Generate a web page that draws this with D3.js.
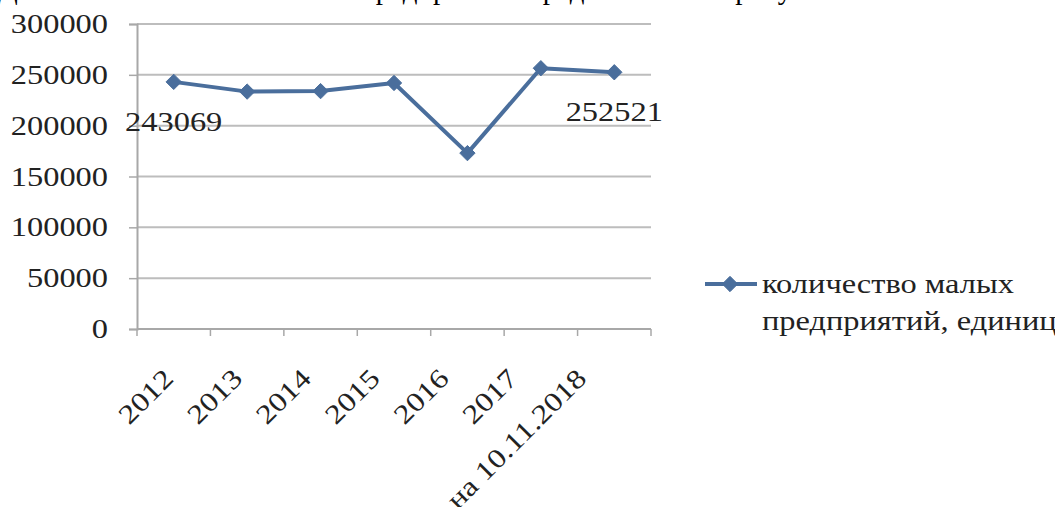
<!DOCTYPE html>
<html>
<head>
<meta charset="utf-8">
<script src="https://cdn.jsdelivr.net/npm/d3@7/dist/d3.min.js"></script>
<style>
  html, body { margin: 0; padding: 0; background: #fff; }
  svg { display: block; }
  text { font-family: "Liberation Serif", "Times New Roman", serif; fill: #222; }
</style>
</head>
<body>
<svg id="chart" width="1055" height="507"></svg>
<script>
const categories = ["2012", "2013", "2014", "2015", "2016", "2017", "на 10.11.2018"];
const values = [243069, 233500, 234000, 242000, 173000, 256500, 252521];
const yTicks = [0, 50000, 100000, 150000, 200000, 250000, 300000];
const labeledIdx = [0, 6];
const seriesName = ["количество малых", "предприятий, единиц"];
const headerText = "Динамика количества малых предприятий представлена на рисунке";

const svg = d3.select("#chart");
const W = 1055, H = 507;
const plot = { left: 137, right: 651, top: 24, bottom: 329 };
const lineColor = "#4a6e9c";
const gridColor = "#bdbdbd";
const fontSize = 27;

// cropped document line at the very top
svg.append("text")
  .attr("class", "header")
  .attr("x", -2).attr("y", -1)
  .style("font-size", "29px")
  .style("fill", "#000")
  .text(headerText);

const x = d3.scaleBand().domain(categories).range([plot.left, plot.right]).paddingInner(0).paddingOuter(0);
const y = d3.scaleLinear().domain([0, 300000]).range([plot.bottom, plot.top]);
const xLab = d3.scalePoint().domain(categories).range([175, 588]);

// gridlines
svg.append("g")
  .selectAll("line").data(yTicks.filter(d => d > 0)).join("line")
  .attr("x1", plot.left).attr("x2", plot.right)
  .attr("y1", d => y(d)).attr("y2", d => y(d))
  .attr("stroke", gridColor).attr("stroke-width", 2);

// y axis
const yAxis = svg.append("g")
  .attr("transform", `translate(${plot.left},0)`)
  .call(d3.axisLeft(y).tickValues(yTicks).tickFormat(d3.format("d")).tickSize(8).tickPadding(21));
yAxis.select(".domain").attr("stroke", "#a8a8a8").attr("stroke-width", 2);
yAxis.selectAll(".tick line").attr("stroke", "#a8a8a8").attr("stroke-width", 1.5);
yAxis.selectAll(".tick text")
  .style("font-size", fontSize + "px")
  .style("font-family", "'Liberation Serif', serif")
  .attr("fill", "#2a2a2a");

// x axis baseline with boundary ticks
const xg = svg.append("g");
xg.append("line")
  .attr("x1", plot.left).attr("x2", plot.right)
  .attr("y1", y(0)).attr("y2", y(0))
  .attr("stroke", "#a8a8a8").attr("stroke-width", 2);
const bounds = categories.map(c => x(c)).concat([x(categories[categories.length - 1]) + x.bandwidth()]);
xg.selectAll("line.tk").data(bounds).join("line")
  .attr("class", "tk")
  .attr("x1", d => d).attr("x2", d => d)
  .attr("y1", y(0)).attr("y2", y(0) + 7)
  .attr("stroke", "#a8a8a8").attr("stroke-width", 1.5);

// x labels rotated
xg.selectAll("text.xl").data(categories).join("text")
  .attr("class", "xl")
  .attr("transform", d => `translate(${xLab(d)},${y(0) + 51}) rotate(-45)`)
  .attr("text-anchor", "end")
  .style("font-size", fontSize + "px")
  .text(d => d);

// series line
const cx = d => x(d) + x.bandwidth() / 2;
const pts = categories.map((c, i) => [cx(c), y(values[i])]);
svg.append("path")
  .datum(pts)
  .attr("d", d3.line())
  .attr("fill", "none")
  .attr("stroke", lineColor)
  .attr("stroke-width", 4)
  .attr("stroke-linejoin", "round");

const diamond = d3.symbol().type(d3.symbolDiamond2).size(150);
svg.append("g").selectAll("path").data(pts).join("path")
  .attr("transform", d => `translate(${d[0]},${d[1]})`)
  .attr("d", diamond)
  .attr("fill", lineColor)
  .attr("stroke", lineColor)
  .attr("stroke-width", 1);

// data labels
svg.append("g").selectAll("text").data(labeledIdx).join("text")
  .attr("class", "dl")
  .attr("x", i => cx(categories[i]))
  .attr("y", i => y(values[i]) + 49)
  .attr("text-anchor", "middle")
  .style("font-size", fontSize + "px")
  .text(i => String(values[i]));

// legend
const lg = svg.append("g").attr("transform", "translate(705,284)");
lg.append("line").attr("x1", 0).attr("x2", 52).attr("y1", 0).attr("y2", 0)
  .attr("stroke", lineColor).attr("stroke-width", 4);
lg.append("path").attr("transform", "translate(25,0)").attr("d", diamond)
  .attr("fill", lineColor).attr("stroke", lineColor);
lg.selectAll("text").data(seriesName).join("text")
  .attr("x", 57)
  .attr("y", (d, i) => 9 + i * 37)
  .style("font-size", fontSize + "px")
  .text(d => d);

// horizontal stretch of text (reference text is widened)
svg.selectAll("text").filter(function () { return !this.classList.contains("header"); })
  .each(function () {
    const w = this.getComputedTextLength();
    d3.select(this).attr("textLength", w * 1.2).attr("lengthAdjust", "spacingAndGlyphs");
  });
</script>
</body>
</html>
